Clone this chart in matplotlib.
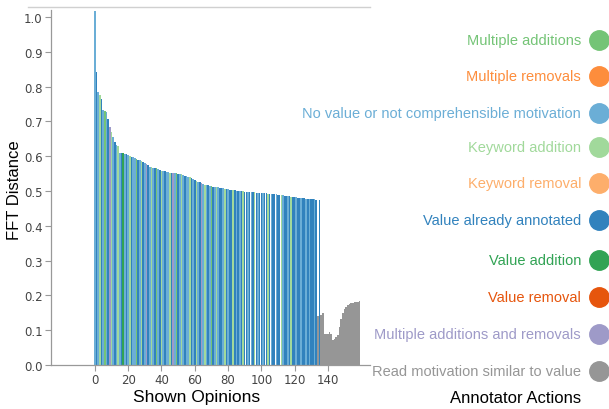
import numpy as np
import matplotlib as mpl
import matplotlib.pyplot as plt
from matplotlib.lines import Line2D

# ---- data -------------------------------------------------------------
# FFT distance of each shown opinion (index 0..159)
heights = [
    1.018, 0.842, 0.785, 0.775, 0.765, 0.732, 0.730, 0.727, 0.707, 0.684,
    0.670, 0.655, 0.640, 0.632, 0.630, 0.610, 0.609, 0.608, 0.607, 0.605,
    0.603, 0.600, 0.599, 0.597, 0.595, 0.593, 0.590, 0.588, 0.585, 0.582,
    0.580, 0.578, 0.574, 0.570, 0.568, 0.566, 0.566, 0.565, 0.563, 0.560,
    0.558, 0.557, 0.556, 0.555, 0.554, 0.553, 0.553, 0.552, 0.552, 0.551,
    0.550, 0.549, 0.548, 0.546, 0.544, 0.542, 0.541, 0.540, 0.537, 0.534,
    0.532, 0.529, 0.527, 0.525, 0.522, 0.520, 0.518, 0.517, 0.516, 0.515,
    0.514, 0.512, 0.512, 0.511, 0.511, 0.510, 0.509, 0.508, 0.507, 0.506,
    0.505, 0.504, 0.503, 0.503, 0.502, 0.501, 0.500, 0.499, 0.499, 0.499,
    0.498, 0.498, 0.497, 0.497, 0.497, 0.496, 0.496, 0.495, 0.495, 0.494,
    0.494, 0.494, 0.493, 0.493, 0.492, 0.492, 0.491, 0.491, 0.490, 0.490,
    0.489, 0.489, 0.488, 0.488, 0.487, 0.487, 0.486, 0.485, 0.484, 0.484,
    0.483, 0.482, 0.481, 0.480, 0.480, 0.479, 0.479, 0.478, 0.478, 0.477,
    0.477, 0.476, 0.476, 0.475, 0.142, 0.473, 0.145, 0.148, 0.090, 0.088,
    0.088, 0.095, 0.090, 0.073, 0.074, 0.080, 0.085, 0.110, 0.133, 0.150,
    0.160, 0.168, 0.172, 0.175, 0.177, 0.178, 0.180, 0.180, 0.181, 0.184,
]

# annotator action per opinion, one letter each
actions = (
    "LDLgDLGLDPgLDLgLDVLD"
    "LgDLLGDLgDLPDLgLDGLD"
    "gLDLLgDPLGDLgLDLLgDL"
    "DgLDPLgLDLGDLgLDDLgD"
    "LDDgDLDLDgDDLDLDgDLD"
    "DLDDgDLDDLDDgLDDLDgD"
    "DLDDLDDLDLDDLD"
    "RDRRRRRRRRRRRRRRRRRRRRRRRR"
)

legend_labels = [
    "Multiple additions",
    "Multiple removals",
    "No value or not comprehensible motivation",
    "Keyword addition",
    "Keyword removal",
    "Value already annotated",
    "Value addition",
    "Value removal",
    "Multiple additions and removals",
    "Read motivation similar to value",
]
legend_colors = ["#74c476", "#fd8d3c", "#6baed6", "#a1d99b", "#fdae6b",
                 "#3182bd", "#31a354", "#e6550d", "#9e9ac8", "#969696"]
code_color = {"G": "#74c476", "L": "#6baed6", "g": "#a1d99b", "D": "#3182bd",
              "V": "#31a354", "P": "#9e9ac8", "R": "#969696"}

# ---- figure -----------------------------------------------------------
W, H = 609, 410
fig = plt.figure(figsize=(W / 100, H / 100), dpi=100)

def fx(px):
    return px / W

def fy(py):
    return 1 - py / H

ax = fig.add_axes([fx(51), fy(366), fx(370) - fx(51), fy(11) - fy(366)])

x = np.arange(len(heights))
ax.bar(x, heights, width=0.96, color=[code_color[c] for c in actions],
       linewidth=0)

ax.set_xlim(-26.4, 165.3)
ax.set_ylim(0, 1.02)
ax.set_xticks(range(0, 141, 20))
ax.set_yticks(np.arange(0, 1.01, 0.1))
ax.yaxis.set_major_formatter(mpl.ticker.FormatStrFormatter("%.1f"))

for s in ["top", "right"]:
    ax.spines[s].set_visible(False)
for s in ["left", "bottom"]:
    ax.spines[s].set_color("#999999")
    ax.spines[s].set_linewidth(0.9)
ax.tick_params(colors="#999999", labelcolor="#444444", labelsize=8.5,
               length=4, width=0.8, pad=2)

# axis titles placed where the reference has them
fig.text(fx(197), fy(398), "Shown Opinions", family="Liberation Sans",
         fontsize=12.5, ha="center", va="center")
fig.text(fx(15), fy(190), "FFT Distance", family="Liberation Sans",
         fontsize=12, ha="center", va="center", rotation=90)

# thin grey line across the top
fig.add_artist(Line2D([fx(28), fx(370)], [fy(8), fy(8)],
                      transform=fig.transFigure, color="#d0d0d0", lw=1))

# ---- legend on the right ---------------------------------------------
rows_px = [40.7, 77.3, 114, 147.7, 184.3, 220.7, 261, 298.3, 335, 371.7]
for lab, col, py in zip(legend_labels, legend_colors, rows_px):
    fig.text(fx(581), fy(py), lab, color=col, ha="right", va="center",
             family="Liberation Sans", fontsize=10.5)
    fig.add_artist(Line2D([fx(599)], [fy(py)], transform=fig.transFigure,
                          marker="o", markersize=14, color=col, lw=0))
fig.text(fx(581), fy(399), "Annotator Actions", color="black", ha="right",
         va="center", family="Liberation Sans", fontsize=12)

fig.savefig("out.png", dpi=100)
